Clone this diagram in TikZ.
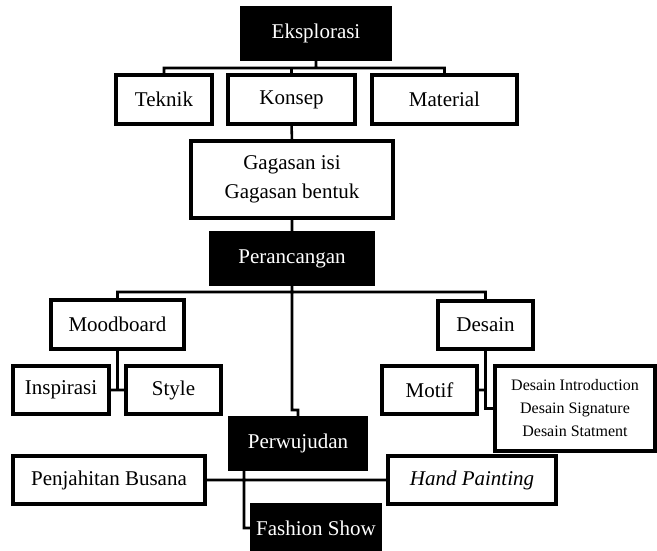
\documentclass[tikz,border=0pt]{standalone}
\usepackage{fontspec}
\setmainfont{Liberation Serif}
\usetikzlibrary{calc}

\begin{document}
\begin{tikzpicture}[x=1pt,y=-1pt,line width=2.6pt,
      box/.style={draw,fill=white,inner sep=0pt,align=center,
        font=\fontsize{21}{29}\selectfont},
      blackbox/.style={box,fill=black,text=white},
      wire/.style={draw,line cap=rect,line join=miter}]
      \useasboundingbox (0,0) rectangle (657,550);

      % stage one
      \node[blackbox,minimum width=146,minimum height=49] (eks) at (316, 33.5) {Eksplorasi};
      \node[box,minimum width=94, minimum height=47] (tek) at (164, 99.5) {Teknik};
      \node[box,minimum width=125,minimum height=47] (kon) at (291.5, 99.5) {Konsep};
      \node[box,minimum width=143,minimum height=47] (mat) at (444.5, 99.5) {Material};
      \node[box,minimum width=200,minimum height=75] (gag) at (292, 179.5) {Gagasan isi\\Gagasan bentuk};

      % stage two
      \node[blackbox,minimum width=160,minimum height=49] (pra) at (292, 258.5) {Perancangan};
      \node[box,minimum width=131,minimum height=47] (mood) at (117.5, 324.5) {Moodboard};
      \node[box,minimum width=93, minimum height=46] (des) at (485.5, 325) {Desain};
      \node[box,minimum width=94, minimum height=46] (insp) at (61, 390) {Inspirasi};
      \node[box,minimum width=93, minimum height=46] (sty) at (173.5, 390) {Style};
      \node[box,minimum width=93, minimum height=46] (mot) at (429.5, 390) {Motif};
      \node[box,minimum width=159,minimum height=83,
        font=\fontsize{16}{23}\selectfont] (lst) at (575, 408.5)
        {Desain Introduction\\Desain Signature\\Desain Statment};

      % stage three
      \node[blackbox,minimum width=134,minimum height=49] (wuj) at (298, 443.5) {Perwujudan};
      \node[box,minimum width=190,minimum height=46] (jah) at (109, 480) {Penjahitan Busana};
      \node[box,minimum width=166,minimum height=47] (hand) at (472, 480) {\itshape Hand Painting};
      \node[blackbox,minimum width=126,minimum height=44] (show) at (316, 528) {Fashion Show};

      \coordinate (bus1) at (0, 68);
      \coordinate (bus2) at (0, 292);
      \coordinate (jog)  at (292, 410);
      \coordinate (foot) at (244, 468);

      \path[wire]
      (eks.south) -- (eks.south |- bus1)
      (tek.north) |- (bus1 -| mat.north) -- (mat.north)
      (kon.north) -- (kon.north |- bus1)
      (kon.south) -- (gag.north)
      (gag.south) -- (pra.north)

      (pra.south) -- (pra.south |- bus2)
      (mood.north) |- (bus2 -| des.north) -- (des.north)
      (mood.south) |- (insp.east)
      (insp.east) -- (sty.west)
      (des.south) |- (lst.west)
      (mot.east) -- (mot.east -| des.south)
      (pra.south |- bus2) -- (jog) -| (wuj.north)

      (jah.east) -- (hand.west)
      (foot) |- (show.west)
      ;
      % redraw boxes over the wires
      \foreach \n in {eks,tek,kon,mat,gag,pra,mood,des,insp,sty,mot,lst,wuj,jah,hand,show}
        \draw (\n.north west) rectangle (\n.south east);
\end{tikzpicture}
\end{document}
